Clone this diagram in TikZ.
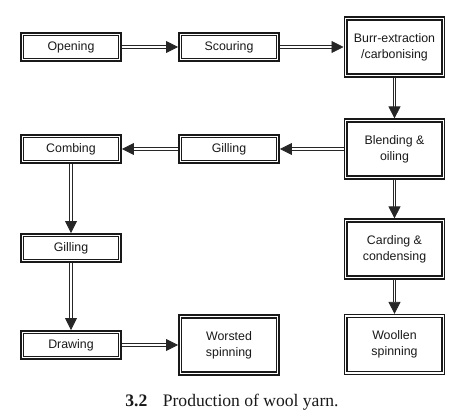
\documentclass[tikz,border=0pt]{standalone}
\usepackage{fontspec}
\setmainfont{Liberation Sans}
\newfontfamily\capfont{Liberation Serif}
\usetikzlibrary{arrows.meta}

\tikzset{
  procbox/.style={draw=black!90, double=white, line width=1.1pt, double distance=0.9pt,
    minimum width=2.44cm, minimum height=0.64cm, inner sep=0pt, outer sep=1.55pt,
    align=center, text=black!90, font=\fontsize{8.8}{11.4}\selectfont},
  tallbox/.style={procbox, minimum height=1.42cm},
  flowarrow/.style={draw=black!85, double=white, line width=0.55pt, double distance=1.3pt,
    -{Triangle[length=8.5pt,width=8.5pt]}},
}

\begin{document}
\begin{tikzpicture}[x=0.025cm, y=-0.025cm]
\useasboundingbox (0,0) rectangle (468,418);

% top row
\node[procbox] (open) at (71,47) {Opening};
\node[procbox] (scour) at (229,47) {Scouring};
\node[tallbox] (burr) at (394.5,47) {Burr-extraction\\/carbonising};

% second row
\node[tallbox] (blend) at (394.5,149) {Blending \&\\oiling};
\node[procbox] (gill) at (229,149) {Gilling};
\node[procbox] (comb) at (71,149) {Combing};

% worsted route
\node[procbox] (gilltwo) at (71,248) {Gilling};
\node[procbox] (drawing) at (71,345) {Drawing};
\node[tallbox] (worst) at (229,345) {Worsted\\spinning};

% woollen route
\node[tallbox] (card) at (394.5,249) {Carding \&\\condensing};
\node[tallbox] (wool) at (394.5,344.5) {Woollen\\spinning};

% connectors
\draw[flowarrow] (open) -- (scour);
\draw[flowarrow] (scour) -- (burr);
\draw[flowarrow] (burr) -- (blend);
\draw[flowarrow] (blend) -- (gill);
\draw[flowarrow] (gill) -- (comb);
\draw[flowarrow] (comb) -- (gilltwo);
\draw[flowarrow] (gilltwo) -- (drawing);
\draw[flowarrow] (drawing) -- (worst);
\draw[flowarrow] (blend) -- (card);
\draw[flowarrow] (card) -- (wool);

% caption
\node[font=\capfont\fontsize{12.5}{15}\selectfont, text=black!90] (cap) at (232,402)
  {\textbf{3.2}\hspace{11pt}Production of wool yarn.};
\end{tikzpicture}
\end{document}
